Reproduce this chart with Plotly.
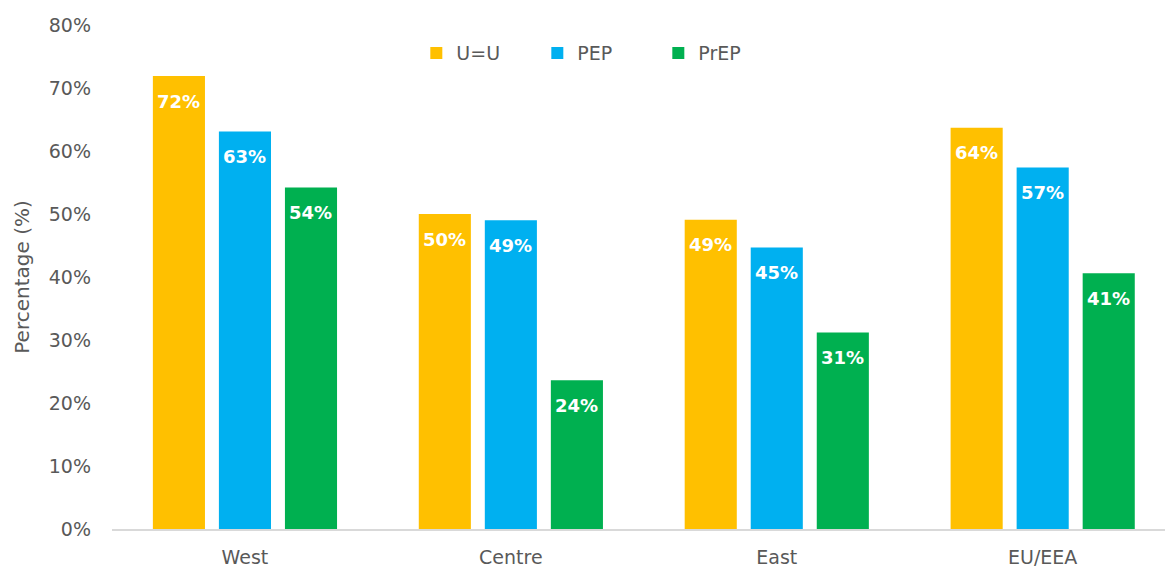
import plotly.graph_objects as go

categories = ["West", "Centre", "East", "EU/EEA"]
uu = [71.9, 50.0, 49.1, 63.7]
pep = [63.1, 49.0, 44.7, 57.4]
prep = [54.2, 23.6, 31.2, 40.6]
series_names = ["U=U", "PEP", "PrEP"]
colors = ["#FFC000", "#00B0F0", "#00B050"]
y_ticks = [0, 10, 20, 30, 40, 50, 60, 70, 80]

FONT = "DejaVu Sans"
BARGAP = 0.255
GROUPGAP = 0.211
slot = (1 - BARGAP) / len(series_names)

fig = go.Figure()
annotations = []
for k, (name, vals, col) in enumerate(zip(series_names, [uu, pep, prep], colors)):
    fig.add_trace(go.Bar(
        x=categories, y=vals, name=name, marker_color=col,
        marker_line_width=0,
    ))
    for i, v in enumerate(vals):
        annotations.append(dict(
            x=i + (k - 1) * slot, y=v, xref="x", yref="y",
            text=f"<b>{round(v):d}%</b>", showarrow=False,
            yshift=-25, yanchor="middle", xanchor="center",
            font=dict(family=FONT, size=18, color="white"),
        ))

fig.update_layout(
    width=1165, height=567,
    margin=dict(l=112, r=0, t=25, b=38),
    paper_bgcolor="white", plot_bgcolor="white",
    barmode="group", bargap=BARGAP, bargroupgap=GROUPGAP,
    font=dict(family=FONT, color="#595959"),
    showlegend=True,
    legend=dict(orientation="h", x=0.289, y=0.944, xanchor="left", yanchor="middle",
                font=dict(size=19, color="#595959"), entrywidth=76, itemwidth=30,
                bgcolor="rgba(0,0,0,0)"),
    annotations=annotations,
)
fig.update_xaxes(range=[-0.5, 3.46], showline=True, linecolor="#D9D9D9", linewidth=1.5,
                 ticks="", tickfont=dict(size=19, color="#595959"), showgrid=False,
                 ticklabelstandoff=10, automargin=False)
fig.update_yaxes(range=[0, 80], tickvals=y_ticks, ticktext=[f"{t}%" for t in y_ticks],
                 showgrid=False, zeroline=False, showline=False, automargin=False,
                 tickfont=dict(size=19, color="#595959"), ticklabelstandoff=20,
                 title=dict(text="Percentage (%)", font=dict(size=20, color="#595959"), standoff=13))

fig.write_html("out.html", config={"displayModeBar": False},
               post_script="document.body.style.margin='0';document.body.style.overflow='hidden';")
